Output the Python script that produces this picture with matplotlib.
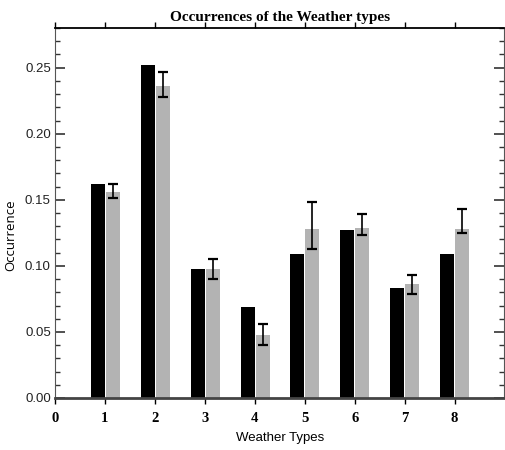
import numpy as np
import matplotlib
matplotlib.use("Agg")
import matplotlib.pyplot as plt
from matplotlib.ticker import MultipleLocator

# data
types = [1, 2, 3, 4, 5, 6, 7, 8]
observed = [0.162, 0.252, 0.098, 0.069, 0.109, 0.127, 0.083, 0.109]
model = [0.156, 0.236, 0.098, 0.048, 0.128, 0.129, 0.086, 0.128]
err_low = [0.005, 0.008, 0.008, 0.008, 0.015, 0.006, 0.007, 0.003]
err_high = [0.006, 0.011, 0.007, 0.008, 0.020, 0.010, 0.007, 0.015]

fig = plt.figure(figsize=(5.05, 4.5), dpi=100)
ax = fig.add_axes([55/505, 52/450, 450/505 - 0.001, 370/450])

x = np.array(types)
ax.bar(x - 0.285, observed, width=0.28, align='edge', color='black',
       edgecolor='none')
ax.bar(x + 0.015, model, width=0.28, align='edge', color='#b3b3b3',
       edgecolor='none')
ax.errorbar(x + 0.155, model, yerr=[err_low, err_high], fmt='none',
            ecolor='black', elinewidth=1.2, capsize=3.3, capthick=1.6)

ax.set_xlim(0, 9)
ax.set_ylim(0, 0.28)
ax.set_xticks(range(0, 9))
ax.set_xticklabels([str(i) for i in range(0, 9)], family='Liberation Serif',
                   fontweight='bold', fontsize=10.5)
ax.yaxis.set_major_locator(MultipleLocator(0.05))
ax.yaxis.set_minor_locator(MultipleLocator(0.01))
ax.set_yticks([0.0, 0.05, 0.10, 0.15, 0.20, 0.25])
ax.set_yticklabels(['0.00', '0.05', '0.10', '0.15', '0.20', '0.25'],
                   family='Liberation Sans', fontsize=9.5)

ax.tick_params(axis='x', which='major', direction='out', length=4,
               top=True, labeltop=False, width=1, pad=6)
ax.tick_params(axis='y', which='major', direction='in', length=7,
               right=True, width=1.2, colors='#333333', labelcolor='#222222',
               pad=3)
ax.tick_params(axis='y', which='minor', direction='in', length=3.7,
               right=True, width=1, colors='#333333')

for s in ['left', 'right']:
    ax.spines[s].set_linewidth(0.8)
    ax.spines[s].set_color('#555555')
ax.spines['top'].set_linewidth(1.3)
ax.spines['bottom'].set_linewidth(2)
ax.spines['bottom'].set_color('#444444')

ax.set_title('Occurrences of the Weather types', family='Liberation Serif',
             fontweight='bold', fontsize=11, pad=5)
ax.set_xlabel('Weather Types', family='Liberation Sans', fontsize=9.5,
              labelpad=5)
ax.set_ylabel('Occurrence', family='Open Sans', fontsize=9.5)
ax.yaxis.set_label_coords(-0.083, 0.44)

fig.savefig('out.png', dpi=100)
